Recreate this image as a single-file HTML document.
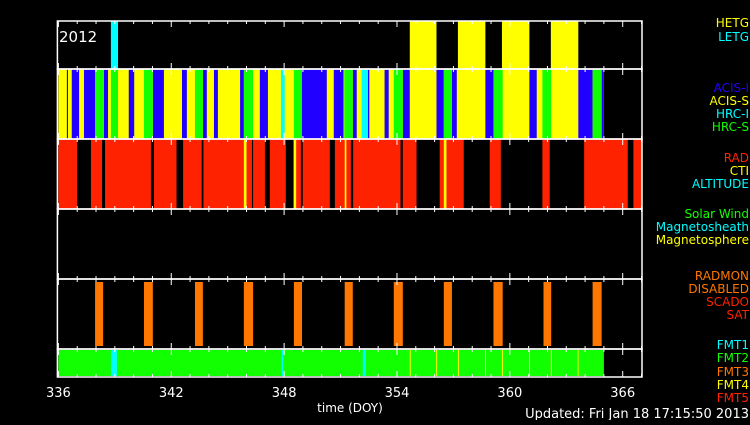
<!DOCTYPE html>
<html><head><meta charset="utf-8"><style>
body{margin:0;background:#000;width:750px;height:420px;overflow:hidden}
svg text{font-family:"DejaVu Sans","Liberation Sans",sans-serif}
</style></head><body>
<svg id="c" width="750" height="420" xmlns="http://www.w3.org/2000/svg">
<rect width="750" height="420" fill="#000"/>
</svg>
<script>
const gratingHetg=[[354.68,356.1],[357.24,358.7],[359.58,361.04],[362.18,363.64]];
const gratingLetg=[[338.79,339.17]];
const instYellowSpan=[[336.0,365.0]];
const instBlue=[[336.45,336.51],[336.71,337.10],[337.36,337.95],[338.42,338.64],[339.74,340.03],[341.02,341.61],[342.57,342.83],[343.68,343.89],[344.27,344.48],[345.66,345.86],[346.71,347.14],[348.95,350.27],[350.64,351.16],[351.65,351.86],[352.46,352.53],[353.34,353.56],[354.31,354.68],[356.10,356.49],[356.92,357.18],[358.70,359.13],[361.04,361.43],[363.64,364.40],[364.88,365.0]];
const instGreen=[[337.95,338.42],[338.79,339.17],[340.55,341.02],[343.26,343.68],[345.86,346.35],[348.52,348.95],[351.20,351.65],[353.83,354.31],[356.49,356.92],[359.13,359.62],[361.73,362.20],[364.40,364.88]];
const instCyan=[[347.83,348.03],[352.12,352.46]];
const radSpan=[[336.0,367.03]];
const radGaps=[[336.99,337.73],[338.32,338.48],[340.92,341.08],[342.28,342.63],[343.62,343.71],[346.29,346.35],[346.98,347.24],[348.09,348.48],[348.89,348.99],[350.43,350.70],[351.55,351.67],[354.19,354.31],[355.04,356.27],[357.55,358.93],[359.52,361.73],[362.12,363.95],[366.27,366.57]];
const ctiLines=[[345.86,346.0],[348.52,348.64],[351.22,351.31],[356.49,356.63]];
const radmon=[[337.95,338.38],[340.55,341.02],[343.26,343.68],[345.86,346.35],[348.52,348.95],[351.22,351.65],[353.83,354.31],[356.49,356.92],[359.13,359.62],[361.79,362.20],[364.40,364.88]];
const fmt2Span=[[336.0,365.0]];
const fmt1=[[338.79,339.11],[347.87,347.95],[352.18,352.34]];
const fmt4=[354.68,356.08,357.24,358.68,359.58,361.02,362.18,363.6];
const tickLabels=[336,342,348,354,360,366];

const NS="http://www.w3.org/2000/svg";
const svg=document.getElementById('c');
const X0=58.4,PX=18.81,D0=336,XR=642;
const xs=d=>X0+(d-D0)*PX;
const panels=[[21,69],[69,139],[139,209],[209,279],[279,349],[349,377]];
function el(t,a){const e=document.createElementNS(NS,t);for(const k in a)e.setAttribute(k,a[k]);svg.appendChild(e);return e;}
function bars(arr,p,color,name,pad){
  const [t,b]=panels[p];
  arr.forEach(s=>{
    const r=el('rect',{x:xs(s[0]),y:t+(pad||0),width:Math.max(1,xs(s[1])-xs(s[0])),height:b-t-2*(pad||0),fill:color});
    
    
  });
}
bars(gratingHetg,0,'#ffff00','hetg-bar');
bars(gratingLetg,0,'#00ffff','letg-bar');
bars(instYellowSpan,1,'#ffff00','acis-s-bar');
bars(instBlue,1,'#2200ff','acis-i-bar');
bars(instGreen,1,'#11ff00','hrc-s-bar');
bars(instCyan,1,'#00ffff','hrc-i-bar');
bars(radSpan,2,'#ff2200','rad-bar');
bars(radGaps,2,'#000000','rad-gap');
bars(ctiLines,2,'#ffff00','cti-bar');
bars(radmon,4,'#ff7700','radmon-bar',3);
bars(fmt2Span,5,'#11ff00','fmt2-bar',1);
bars(fmt1,5,'#00ffff','fmt1-bar',1);
fmt4.forEach(d=>{
  const r=el('rect',{x:xs(d),y:350,width:1,height:26,fill:'#ffff00'});
  
  
});
// frames & ticks
panels.forEach((p,i)=>{
  const f=el('rect',{x:X0-1,y:p[0],width:XR-X0+1,height:p[1]-p[0],fill:'none',stroke:'#fff','stroke-width':1.5});
  
  
  for(let d=336;d<=367;d++){
    const x=xs(d),L=((d-336)%6===0)?6:3;
    el('line',{x1:x,y1:p[1],x2:x,y2:p[1]-L,stroke:'#fff','stroke-width':1});
    el('line',{x1:x,y1:p[0],x2:x,y2:p[0]+L,stroke:'#fff','stroke-width':1});
  }
});
tickLabels.forEach(v=>{
  const t=el('text',{x:xs(v),y:397,fill:'#fff','font-size':13,'text-anchor':'middle'});
  t.textContent=v;
  
  
});
function txt(s,x,y,c,sz,anc,name){const t=el('text',{x:x,y:y,fill:c,'font-size':sz,'text-anchor':anc||'end'});t.textContent=s;return t;}
txt('2012',59,42,'#fff',15,'start','year-label');
txt('time (DOY)',350,412,'#fff',12,'middle','x-axis-title');
txt('Updated: Fri Jan 18 17:15:50 2013',749,418,'#fff',13,'end','updated-stamp');
const leg=[['HETG',27,'#ffff00'],['LETG',41,'#00ffff'],['ACIS-I',92,'#2200ff'],['ACIS-S',105,'#ffff00'],['HRC-I',118,'#00ffff'],['HRC-S',131,'#11ff00'],['RAD',162,'#ff2200'],['CTI',175,'#ffff00'],['ALTITUDE',188,'#00ffff'],['Solar Wind',218,'#11ff00'],['Magnetosheath',231,'#00ffff'],['Magnetosphere',244,'#ffff00'],['RADMON',280,'#ff7700'],['DISABLED',293,'#ff7700'],['SCADO',306,'#ff2200'],['SAT',319,'#ff2200'],['FMT1',349,'#00ffff'],['FMT2',362,'#11ff00'],['FMT3',376,'#ff7700'],['FMT4',389,'#ffff00'],['FMT5',402,'#ff2200']];
leg.forEach(l=>txt(l[0],749,l[1],l[2],12,'end','legend-'+l[0].toLowerCase().replace(/\s+/g,'-')));
</script>
</body></html>
